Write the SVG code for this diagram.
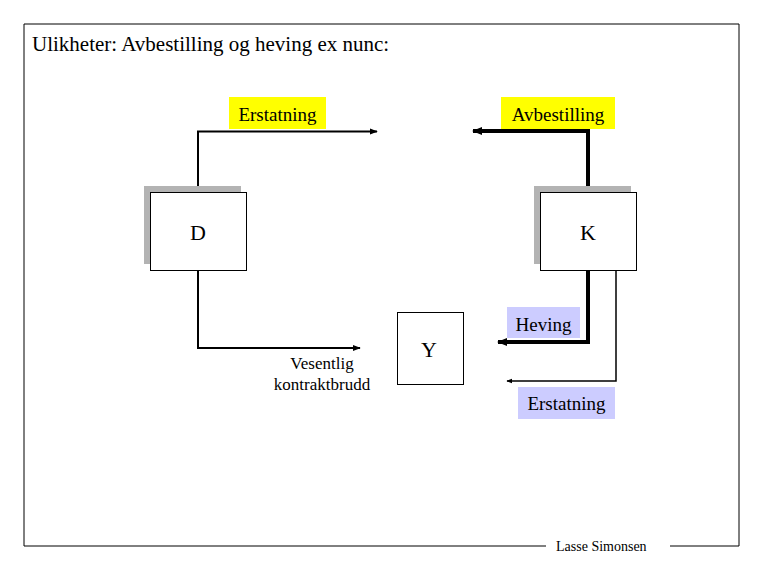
<svg xmlns="http://www.w3.org/2000/svg" width="765" height="570" viewBox="0 0 765 570">
<style>
text{font-family:"Liberation Serif","Times New Roman",serif;fill:#000}
.box{fill:#fff;stroke:#000;stroke-width:1}
.sh{fill:#b3b3b3}
.thin{fill:none;stroke:#000;stroke-width:2}
.thick{fill:none;stroke:#000;stroke-width:4}
.fr{fill:none;stroke:#000;stroke-width:1}
</style>
<defs>
<marker id="a" viewBox="0 0 10 10" refX="9" refY="5" markerWidth="4" markerHeight="4" orient="auto" markerUnits="strokeWidth"><path d="M0,1 L10,5 L0,9 z" fill="#000"/></marker>
<marker id="b" viewBox="0 0 10 10" refX="9" refY="5" markerWidth="2.5" markerHeight="2.5" orient="auto" markerUnits="strokeWidth"><path d="M0,1 L10,5 L0,9 z" fill="#000"/></marker>
</defs>
<rect width="765" height="570" fill="#fff"/>
<path class="fr" d="M546,546 H24 V24 H739 V546 H670"/>
<text x="32" y="51" font-size="21">Ulikheter: Avbestilling og heving ex nunc:</text>
<text x="556" y="551" font-size="14">Lasse Simonsen</text>
<g id="connectors">
<path class="thin" d="M198,187 V131.5 H377" marker-end="url(#a)"/>
<path class="thick" d="M588,187 V131 H473" marker-end="url(#b)"/>
<path class="thin" d="M198,270 V348 H360" marker-end="url(#a)"/>
<path class="thick" d="M588,270 V342 H498" marker-end="url(#b)"/>
<path class="thin" d="M616,269 V381 H507" marker-end="url(#a)" style="stroke-width:1.5"/>
</g>
<g id="label-erstatning-top"><rect x="229" y="97" width="97" height="32" fill="#ffff00"/><text x="277.5" y="121" font-size="19" text-anchor="middle">Erstatning</text></g>
<g id="label-avbestilling"><rect x="501" y="97" width="114" height="32" fill="#ffff00"/><text x="558" y="121" font-size="19" text-anchor="middle">Avbestilling</text></g>
<g id="label-heving"><rect x="507" y="307" width="73" height="31" fill="#ccccff"/><text x="543.5" y="331" font-size="19" text-anchor="middle">Heving</text></g>
<g id="label-erstatning-bottom"><rect x="518" y="387" width="97" height="32" fill="#ccccff"/><text x="566.5" y="410" font-size="19" text-anchor="middle">Erstatning</text></g>
<g id="label-vesentlig"><text x="322" y="369" font-size="17" text-anchor="middle">Vesentlig</text><text x="322" y="390" font-size="17" text-anchor="middle">kontraktbrudd</text></g>
<g id="node-D"><rect class="sh" x="144" y="186" width="97" height="78"/><rect class="box" x="150.5" y="192.5" width="96" height="78"/><text x="198" y="240" font-size="22" text-anchor="middle">D</text></g>
<g id="node-K"><rect class="sh" x="534" y="186" width="97" height="78"/><rect class="box" x="540.5" y="192.5" width="96" height="78"/><text x="588" y="240" font-size="22" text-anchor="middle">K</text></g>
<g id="node-Y"><rect class="box" x="397.5" y="312.5" width="66" height="72"/><text x="429" y="357" font-size="22" text-anchor="middle">Y</text></g>
</svg>
